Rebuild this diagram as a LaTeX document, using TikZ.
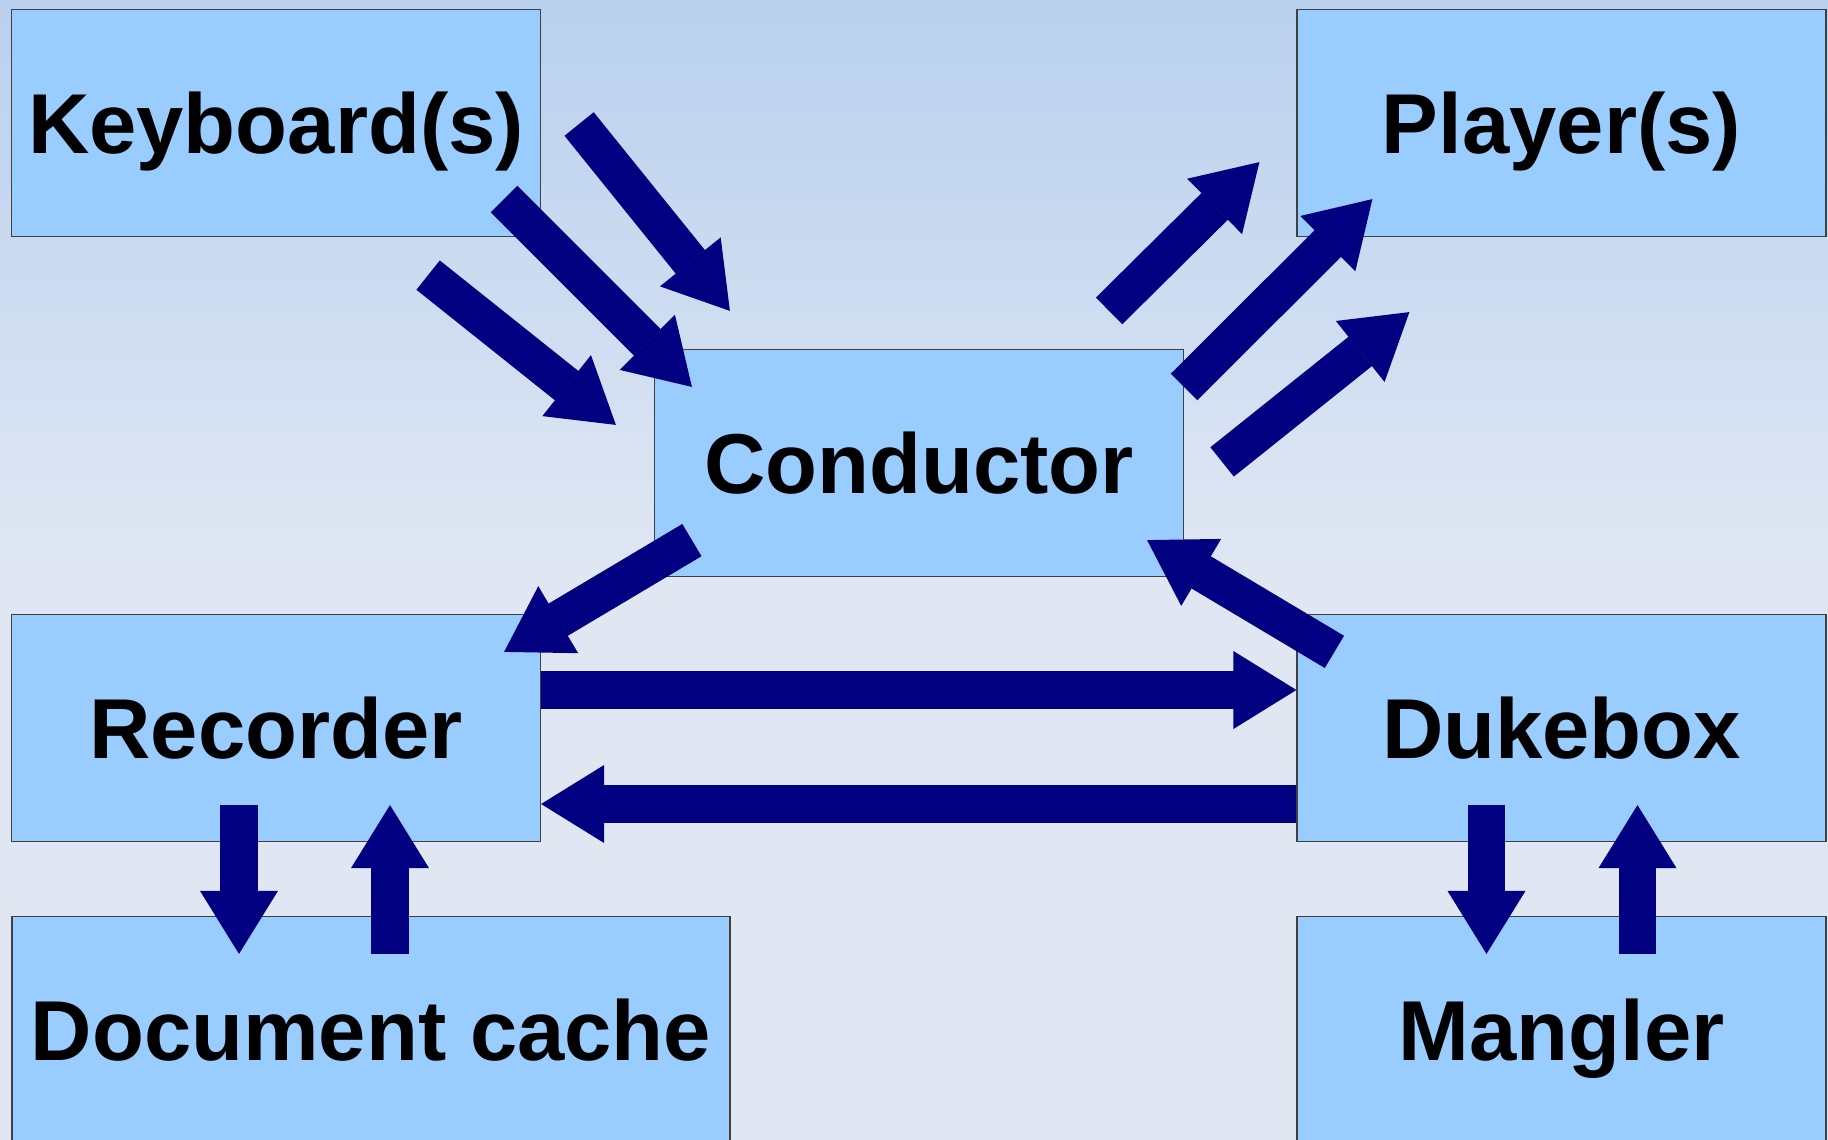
\documentclass[tikz,border=0pt]{standalone}
\usepackage{fontspec}
\setmainfont{Liberation Sans}
\usetikzlibrary{positioning,arrows.meta}
\definecolor{boxblue}{RGB}{153,204,255}
\definecolor{navyarrow}{RGB}{0,0,128}
\definecolor{bgtop}{RGB}{185,208,238}
\definecolor{bgbottom}{RGB}{224,231,243}
\begin{document}
\begin{tikzpicture}[x=0.5pt ,y=-0.5pt ,on grid ,
-{Triangle[length=31.5pt ,width=39pt ,line width=0pt]} ,
navyarrow ,
pipe/.style ={line width=0.1pt ,
preaction={draw ,- ,line width=18.75pt ,shorten >=31.4pt}} ,
box/.style ={ rectangle ,fill=boxblue ,draw=black!75 ,line width=0.6pt ,
text=black ,font=\fontsize{42.5}{51}\selectfont\bfseries ,
minimum width=264.5pt ,minimum height=113.5pt ,inner sep=0pt ,
text height=30.5pt ,text depth=0pt}]
\useasboundingbox (0,0) rectangle (1828,1140);
\shade[- ,top color=bgtop ,bottom color=bgbottom] (0,0) rectangle (1828,570);
\fill[- ,bgbottom] (0,570) rectangle (1828,1140);
\node[box] (K) at (276,123) {Keyboard(s)};
\node[box] (P) [right = 642.75pt of K] {Player(s)};
\node[box] (C) [below right = 170pt and 321.5pt of K] {Conductor};
\node[box] (R) [below = 302.5pt of K] {Recorder};
\node[box] (D) [below = 302.5pt of P] {Dukebox};
\node[box ,minimum width=359pt] (DC) [below right = 151pt and 47.5pt of R] {Document cache};
\node[box] (M) [below = 151pt of D] {Mangler};
% keyboards -> conductor
\draw[pipe] ([shift={(38,1)}]K.east) -- ([shift={(76,-38)}]C.north west);
\draw[pipe] ([shift={(-37,-38)}]K.south east) -- ([shift={(38,38)}]C.north west);
\draw[pipe] ([shift={(-113,38)}]K.south east) -- ([shift={(-38,76)}]C.north west);
% conductor -> players
\draw[pipe] ([shift={(-75,-38)}]C.north east) -- ([shift={(-37,-75)}]P.south west);
\draw[pipe] ([shift={(0,38)}]C.north east) -- ([shift={(76,-38)}]P.south west);
\draw[pipe] ([shift={(38,113)}]C.north east) -- ([shift={(113,75)}]P.south west);
\draw[pipe] ([shift={(38,-37)}]C.south west) -- ([shift={(-37,38)}]R.north east);
\draw[pipe] ([shift={(38,38)}]D.north west) -- ([shift={(-37,-37)}]C.south east);
\draw[pipe] ([shift={(0,-38)}]R.east) -- ([shift={(0,-38)}]D.west);
\draw[pipe] ([shift={(0,76)}]D.west) -- ([shift={(0,76)}]R.east);
\draw[pipe] ([shift={(-37,-37)}]R.south) -- ([shift={(-132,38)}]DC.north);
\draw[pipe] ([shift={(19,38)}]DC.north) -- ([shift={(114,-37)}]R.south);
\draw[pipe] ([shift={(-75,-37)}]D.south) -- ([shift={(-75,38)}]M.north);
\draw[pipe] ([shift={(76,38)}]M.north) -- ([shift={(76,-37)}]D.south);
\end{tikzpicture}
\end{document}
